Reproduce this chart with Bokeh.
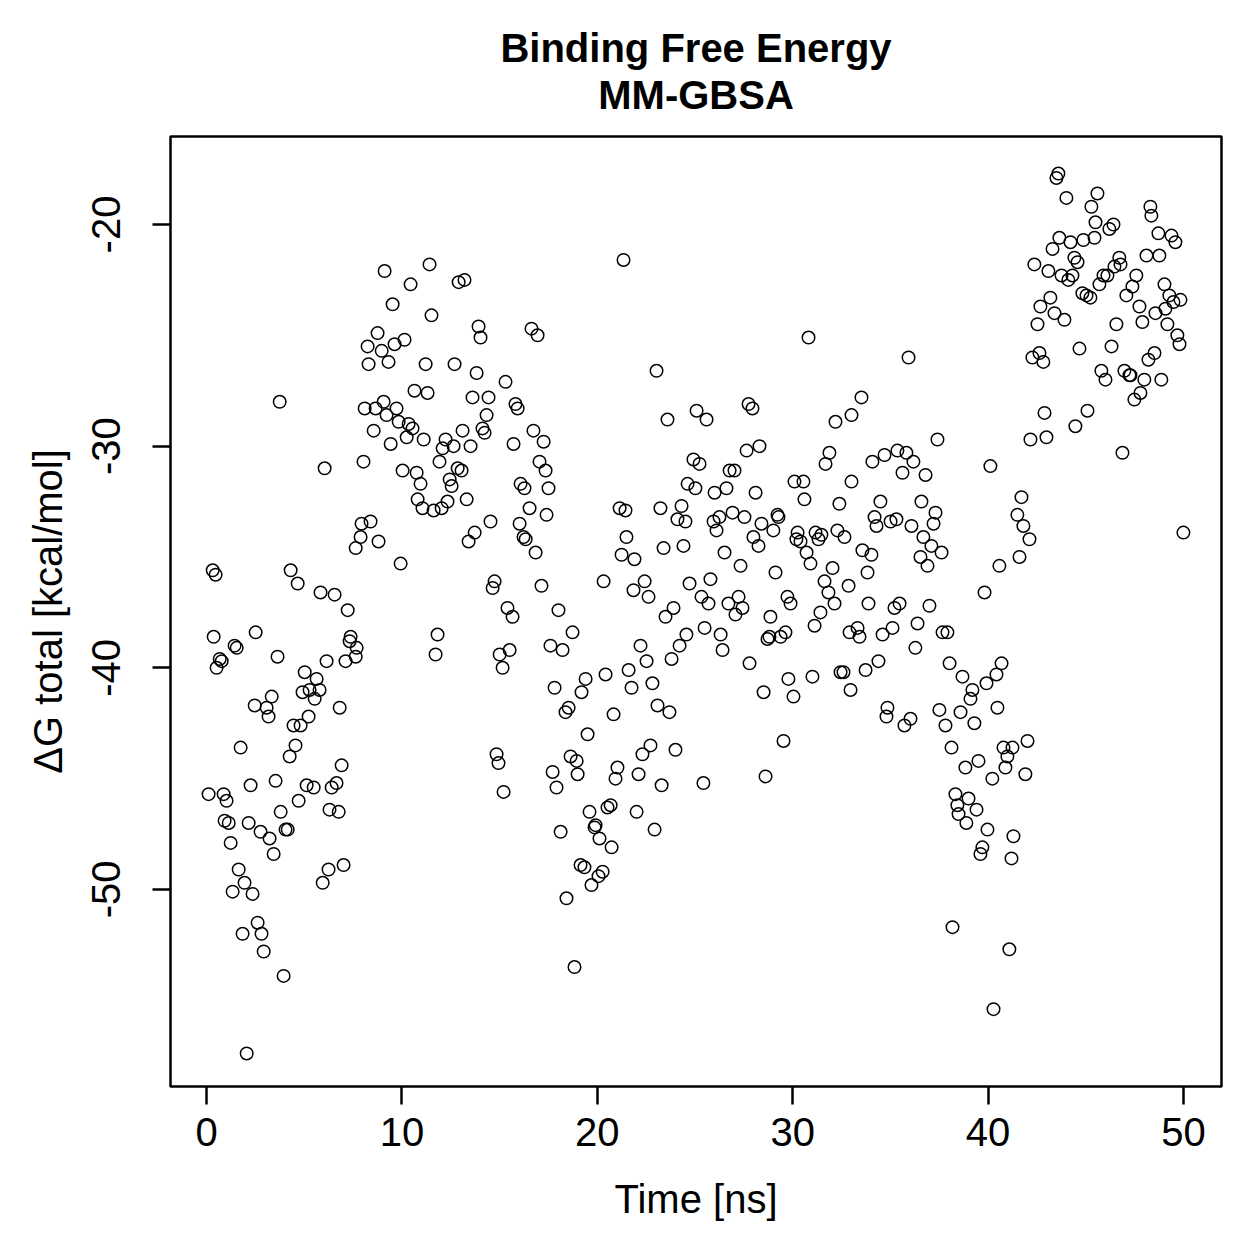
from bokeh.plotting import figure
from bokeh.models import Range1d, FixedTicker, Title
from bokeh.embed import file_html
from bokeh.resources import INLINE

# Simulation time of each MM-GBSA frame [ns]
time_ns = [
    0.10, 0.31, 0.46, 0.36, 0.51, 0.67, 0.77, 0.87, 1.02, 0.92,
    1.13, 1.23, 1.33, 1.43, 1.54, 1.64, 1.74, 1.84, 1.94, 2.05,
    2.15, 2.25, 2.35, 2.46, 2.51, 2.61, 2.76, 2.81, 2.92, 3.07,
    3.17, 3.22, 3.33, 3.43, 3.53, 3.63, 3.74, 3.79, 3.94, 4.04,
    4.15, 4.25, 4.30, 4.45, 4.55, 4.66, 4.71, 4.81, 4.91, 5.02,
    5.12, 5.22, 5.27, 5.48, 5.53, 5.63, 5.78, 5.83, 5.94, 6.04,
    6.14, 6.24, 6.29, 6.40, 6.55, 6.65, 6.76, 6.81, 6.91, 7.01,
    7.11, 7.22, 7.32, 7.37, 7.63, 7.68,
    7.63, 7.88, 7.93, 8.03, 8.09, 8.24, 8.29, 8.39, 8.55, 8.65,
    8.75, 8.80, 8.96, 9.06, 9.11, 9.21, 9.31, 9.42, 9.52, 9.62,
    9.72, 9.83, 9.93, 10.03, 10.13, 10.24, 10.34, 10.44, 10.54, 10.64,
    10.75, 10.80, 10.95, 11.05, 11.11, 11.21, 11.31, 11.41, 11.51, 11.62,
    11.72, 11.82, 11.92, 12.03, 12.08, 12.23, 12.33, 12.44, 12.54, 12.64,
    12.69, 12.85, 12.90, 13.05, 13.10, 13.20, 13.31, 13.41, 13.51, 13.61,
    13.72, 13.82, 13.92, 14.02, 14.12, 14.23, 14.33, 14.43, 14.53, 14.64,
    14.74, 14.84, 14.94, 15.00, 15.15, 15.20, 15.30, 15.40, 15.51, 15.66,
    15.71, 15.81, 15.92, 16.02, 16.07, 16.22, 16.27, 16.33,
    16.53, 16.63, 16.73, 16.84, 16.94, 17.04, 17.14, 17.25, 17.35, 17.40,
    17.50, 17.60, 17.71, 17.81, 17.91, 18.01, 18.12, 18.22, 18.37, 18.42,
    18.53, 18.63, 18.73, 18.83, 18.94, 18.99, 19.14, 19.19, 19.34, 19.40,
    19.50, 19.60, 19.70, 19.86, 19.91, 20.06, 20.11, 20.27, 20.32, 20.42,
    20.52, 20.68, 20.73, 20.83, 20.93, 21.03, 21.14, 21.24, 21.34, 21.44,
    21.49, 21.60, 21.75, 21.85, 21.90, 22.01, 22.11, 22.21, 22.31, 22.42,
    22.52, 22.62, 22.72, 22.82, 22.93, 23.03, 23.08, 23.23, 23.29, 23.39,
    23.49, 23.59, 23.69, 23.80, 23.90, 24.00, 24.10, 24.21, 24.31, 24.41,
    24.51, 24.56, 24.62, 24.72,
    24.92, 25.02, 25.08, 25.23, 25.33, 25.43, 25.49, 25.59, 25.69, 25.79,
    25.95, 26.00, 26.10, 26.25, 26.31, 26.41, 26.51, 26.61, 26.71, 26.77,
    26.92, 27.02, 27.07, 27.23, 27.33, 27.43, 27.53, 27.64, 27.74, 27.79,
    27.94, 27.99, 28.10, 28.25, 28.30, 28.40, 28.51, 28.61, 28.71, 28.81,
    28.86, 29.01, 29.12, 29.22, 29.27, 29.38, 29.53, 29.63, 29.73, 29.78,
    29.89, 30.04, 30.09, 30.19, 30.25, 30.40, 30.55, 30.60, 30.71, 30.81,
    30.91, 31.01, 31.12, 31.17, 31.32, 31.42, 31.47, 31.63, 31.68, 31.83,
    31.88, 32.04, 32.14, 32.19, 32.29, 32.39, 32.45, 32.60, 32.65, 32.86,
    32.91, 32.96, 33.01, 33.01,
    33.32, 33.42, 33.52, 33.57, 33.73, 33.83, 33.88, 34.03, 34.08, 34.19,
    34.29, 34.39, 34.49, 34.60, 34.70, 34.80, 34.85, 35.01, 35.11, 35.21,
    35.31, 35.36, 35.47, 35.62, 35.72, 35.82, 35.93, 36.03, 36.08, 36.18,
    36.28, 36.39, 36.54, 36.59, 36.69, 36.80, 36.90, 37.00, 37.10, 37.21,
    37.31, 37.41, 37.51, 37.62, 37.67, 37.82, 37.92, 38.03, 38.13, 38.18,
    38.33, 38.43, 38.49, 38.59, 38.69, 38.84, 38.89, 39.00, 39.10, 39.20,
    39.30, 39.41, 39.51, 39.61, 39.71, 39.82, 39.92, 39.97, 40.12, 40.22,
    40.28, 40.43, 40.48, 40.58, 40.69, 40.79, 40.89, 40.99, 41.09, 41.20,
    41.25, 41.30,
    41.50, 41.61, 41.71, 41.81, 41.91, 42.02, 42.12, 42.17, 42.27, 42.37,
    42.53, 42.63, 42.68, 42.83, 42.89, 42.99, 43.09, 43.19, 43.30, 43.40,
    43.50, 43.60, 43.65, 43.76, 43.91, 44.01, 44.11, 44.22, 44.32, 44.42,
    44.47, 44.58, 44.68, 44.83, 44.88, 45.04, 45.09, 45.24, 45.29, 45.45,
    45.50, 45.60, 45.70, 45.80, 45.91, 46.01, 46.11, 46.21, 46.32, 46.42,
    46.47, 46.57, 46.72, 46.78, 46.88, 46.98, 47.08, 47.24, 47.29, 47.39,
    47.49, 47.59, 47.75, 47.80, 47.90, 48.00, 48.11, 48.21, 48.31, 48.36,
    48.52, 48.57, 48.72, 48.77, 48.87, 49.03, 49.08, 49.18, 49.28, 49.39,
    49.49, 49.59, 49.69, 49.80, 49.85, 50.00,
]

# Total binding free energy per frame [kcal/mol]
dg_total = [
    -45.7, -35.6, -35.8, -38.6, -40.0, -39.6, -39.7, -45.7, -46.0, -46.9,
    -47.0, -47.9, -50.1, -39.0, -39.1, -49.1, -43.6, -52.0, -49.7, -57.4,
    -47.0, -45.3, -50.2, -41.7, -38.4, -51.5, -47.4, -52.0, -52.8, -41.8,
    -42.2, -47.7, -41.3, -48.4, -45.1, -39.5, -28.0, -46.5, -53.9, -47.3,
    -47.3, -44.0, -35.6, -42.6, -43.5, -36.2, -46.0, -42.6, -41.1, -40.2,
    -45.3, -42.2, -41.0, -45.4, -41.4, -40.5, -41.0, -36.6, -49.7, -31.0,
    -39.7, -49.1, -46.4, -45.4, -36.7, -45.2, -46.5, -41.8, -44.4, -48.9,
    -39.7, -37.4, -38.8, -38.6, -39.5, -39.1,
    -34.6, -34.1, -33.5, -30.7, -28.3, -25.5, -26.3, -33.4, -29.3, -28.3,
    -24.9, -34.3, -25.7, -28.0, -22.1, -28.6, -26.2, -29.9, -23.6, -25.4,
    -28.3, -28.9, -35.3, -31.1, -25.2, -29.6, -29.0, -22.7, -29.2, -27.5,
    -31.2, -32.4, -31.7, -32.8, -29.7, -26.3, -27.6, -21.8, -24.1, -32.9,
    -39.4, -38.5, -30.7, -32.8, -30.1, -29.7, -32.5, -31.5, -31.8, -30.0,
    -26.3, -31.0, -22.6, -31.1, -29.3, -22.5, -32.4, -34.3, -30.0, -27.8,
    -33.9, -26.7, -24.6, -25.1, -29.2, -29.4, -28.6, -27.8, -33.4, -36.4,
    -36.1, -43.9, -44.3, -39.4, -40.0, -45.6, -27.1, -37.3, -39.2, -37.7,
    -29.9, -28.1, -28.3, -33.5, -31.7, -34.1, -31.9, -34.2,
    -32.8, -24.7, -29.3, -34.8, -25.0, -30.7, -36.3, -29.8, -31.1, -33.1,
    -31.9, -39.0, -44.7, -40.9, -45.4, -37.4, -47.4, -39.2, -42.0, -50.4,
    -41.8, -44.0, -38.4, -53.5, -44.2, -44.8, -48.9, -41.1, -49.0, -40.5,
    -43.0, -46.5, -49.8, -47.2, -47.1, -49.4, -47.7, -49.2, -36.1, -40.3,
    -46.3, -46.2, -48.1, -42.1, -45.0, -44.5, -32.8, -34.9, -21.6, -32.9,
    -34.1, -40.1, -40.9, -36.5, -35.1, -46.5, -44.8, -39.0, -43.9, -36.1,
    -39.7, -36.8, -43.5, -40.7, -47.3, -26.6, -41.7, -32.8, -45.3, -34.6,
    -37.7, -28.8, -42.0, -39.6, -37.3, -43.7, -33.3, -39.0, -32.7, -34.5,
    -33.4, -38.5, -31.7, -36.2,
    -30.6, -31.9, -28.4, -30.8, -36.8, -45.2, -38.2, -28.8, -37.1, -36.0,
    -33.4, -32.1, -33.8, -33.2, -38.5, -39.2, -34.8, -31.9, -37.1, -31.1,
    -33.0, -31.1, -37.6, -36.8, -35.4, -37.3, -33.2, -30.2, -28.1, -39.8,
    -28.3, -34.1, -32.1, -34.5, -30.0, -33.5, -41.1, -44.9, -38.7, -38.6,
    -37.7, -33.8, -35.7, -33.1, -33.2, -38.6, -43.3, -38.4, -36.8, -40.5,
    -37.1, -41.3, -31.6, -34.2, -33.9, -34.3, -31.6, -32.4, -34.8, -25.1,
    -35.3, -40.4, -38.1, -33.9, -34.2, -37.5, -34.0, -36.1, -30.8, -36.6,
    -30.3, -35.5, -37.1, -28.9, -33.8, -32.6, -40.2, -40.2, -34.1, -36.3,
    -38.4, -41.0, -28.6, -31.6,
    -38.2, -38.6, -27.8, -34.7, -40.1, -35.7, -37.1, -34.9, -30.7, -33.2,
    -33.6, -39.7, -32.5, -38.5, -30.4, -42.2, -41.8, -33.4, -38.2, -37.3,
    -33.3, -30.2, -37.1, -31.2, -42.6, -30.3, -26.0, -42.3, -33.6, -30.7,
    -39.1, -38.0, -35.0, -32.5, -34.1, -31.3, -35.4, -37.2, -34.5, -33.5,
    -33.0, -29.7, -41.9, -34.8, -38.4, -42.6, -38.4, -39.8, -43.6, -51.7,
    -45.7, -46.2, -46.6, -42.0, -40.4, -44.5, -47.0, -45.9, -41.4, -41.0,
    -42.5, -46.4, -44.2, -48.4, -48.1, -36.6, -40.7, -47.3, -30.9, -45.0,
    -55.4, -40.3, -41.8, -35.4, -39.8, -43.6, -44.5, -44.0, -52.7, -48.6,
    -43.6, -47.6,
    -33.1, -35.0, -32.3, -33.6, -44.8, -43.3, -34.2, -29.7, -26.0, -21.8,
    -24.5, -25.8, -23.7, -26.2, -28.5, -29.6, -22.1, -23.3, -21.1, -24.0,
    -17.9, -17.7, -20.6, -22.3, -24.3, -18.8, -22.5, -20.8, -22.3, -21.5,
    -29.1, -21.7, -25.6, -23.1, -20.7, -23.2, -28.4, -23.3, -19.2, -20.6,
    -19.9, -18.6, -22.7, -26.6, -22.3, -27.0, -22.3, -20.2, -25.5, -20.0,
    -21.9, -24.5, -21.5, -21.8, -30.3, -26.6, -23.2, -26.8, -26.8, -22.8,
    -27.9, -22.3, -23.7, -27.6, -24.4, -27.0, -21.4, -26.1, -19.2, -19.6,
    -25.8, -24.0, -20.4, -21.4, -27.0, -22.7, -23.8, -24.5, -23.2, -20.5,
    -23.5, -20.8, -25.0, -25.4, -23.4, -33.9,
]

x_ticks = [0, 10, 20, 30, 40, 50]
y_ticks = [-50, -40, -30, -20]

FONT = "Liberation Sans"
TEXT_SIZE = "40px"

p = figure(
    width=1259, height=1259,
    output_backend="svg", toolbar_location=None,
    x_range=Range1d(-1.85, 51.95), y_range=Range1d(-58.89, -16.03),
    min_border_left=170, min_border_right=38,
    min_border_top=136, min_border_bottom=173,
    background_fill_color="white", border_fill_color="white",
)

# Heading: titles added with add_layout stack outward from the frame,
# the plot's own title sits outermost.  A blank 1px title keeps a gap
# between the lower heading line and the box.
heading_style = dict(align="center", text_font=FONT, text_font_size=TEXT_SIZE,
                     text_font_style="bold", text_color="black")
p.add_layout(Title(text=" ", text_font_size="1px", standoff=15), "above")
p.add_layout(Title(text="MM-GBSA", standoff=3, **heading_style), "above")
p.title.text = "Binding Free Energy"
p.title.standoff = 0
for k, v in heading_style.items():
    setattr(p.title, k, v)

p.grid.visible = False
p.outline_line_color = "black"
p.outline_line_width = 2.5

p.xaxis.ticker = FixedTicker(ticks=x_ticks)
p.yaxis.ticker = FixedTicker(ticks=y_ticks)
p.yaxis.major_label_overrides = {t: str(t) for t in y_ticks}
p.yaxis.major_label_orientation = "vertical"

for ax in (p.xaxis[0], p.yaxis[0]):
    ax.axis_line_color = None
    ax.major_tick_line_color = "black"
    ax.major_tick_line_width = 2.5
    ax.major_tick_in = 0
    ax.major_tick_out = 18
    ax.minor_tick_line_color = None
    ax.major_label_text_font = FONT
    ax.major_label_text_font_size = TEXT_SIZE
    ax.major_label_text_color = "black"
    ax.axis_label_text_font = FONT
    ax.axis_label_text_font_size = TEXT_SIZE
    ax.axis_label_text_font_style = "normal"
    ax.axis_label_text_color = "black"

p.xaxis.axis_label = "Time [ns]"
p.yaxis.axis_label = "\u0394G total [kcal/mol]"
p.xaxis.major_label_standoff = 13
p.yaxis.major_label_standoff = 32
p.xaxis.axis_label_standoff = 28
p.yaxis.axis_label_standoff = 20

p.scatter(time_ns, dg_total, marker="circle", size=12.5,
          fill_color=None, line_color="black", line_width=1.5)

open("out.html", "w").write(file_html(p, INLINE))
